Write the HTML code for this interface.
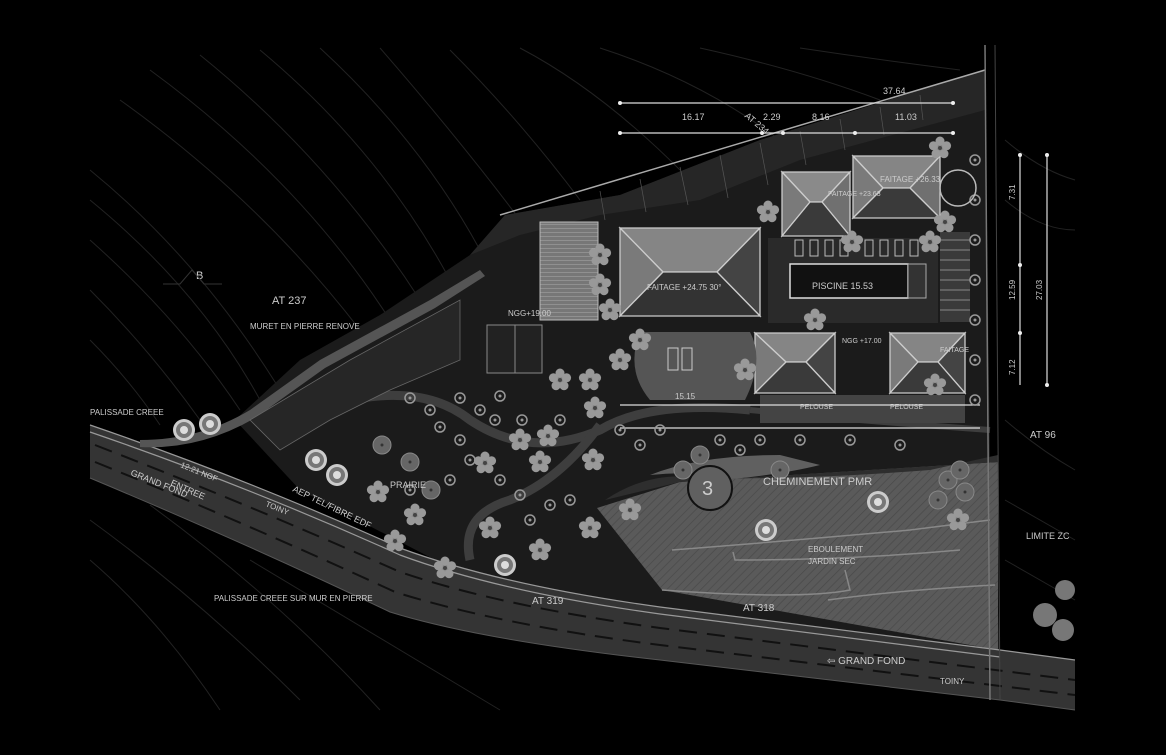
<!DOCTYPE html>
<html><head><meta charset="utf-8"><style>
html,body{margin:0;padding:0;background:#000;}
svg{display:block}
text{font-family:"Liberation Sans",sans-serif;fill:#ccc}
</style></head><body>
<svg width="1166" height="755" viewBox="0 0 1166 755" xmlns="http://www.w3.org/2000/svg">
<rect width="1166" height="755" fill="#000"/>
<defs>
<pattern id="hatch" width="6" height="6" patternUnits="userSpaceOnUse" patternTransform="rotate(45)">
<rect width="6" height="6" fill="#5a5a5a"/><line x1="0" y1="0" x2="0" y2="6" stroke="#4a4a4a" stroke-width="1.5"/></pattern>
<pattern id="grid" width="5" height="4" patternUnits="userSpaceOnUse"><rect width="5" height="4" fill="#777"/><line x1="0" y1="0" x2="5" y2="0" stroke="#aaa" stroke-width="1"/></pattern>
<g id="fl"><circle r="7" fill="#888"/><circle cx="0" cy="-7" r="4.5" fill="#999"/><circle cx="6.6" cy="-2.2" r="4.5" fill="#999"/><circle cx="4" cy="5.7" r="4.5" fill="#999"/><circle cx="-4" cy="5.7" r="4.5" fill="#999"/><circle cx="-6.6" cy="-2.2" r="4.5" fill="#999"/><circle r="2" fill="#444"/></g>
<g id="rt"><circle r="5" fill="none" stroke="#999" stroke-width="1.5"/><circle r="1.5" fill="#999"/></g>
<g id="gt"><circle r="9" fill="#666" stroke="#888"/><circle r="1.5" fill="#333"/></g>
<g id="wt"><circle r="11" fill="#ccc"/><circle r="8" fill="#777"/><circle r="4" fill="#ddd"/></g>
</defs>
<!-- contours -->
<g fill="none" stroke="#222" stroke-width="1">
<path d="M90 170 Q200 260 280 390"/><path d="M90 200 Q200 290 260 400"/><path d="M90 240 Q180 320 240 410"/>
<path d="M90 290 Q150 350 200 420"/><path d="M90 340 Q130 380 160 425"/>
<path d="M120 100 Q260 200 360 330"/><path d="M150 70 Q300 180 390 320"/><path d="M200 55 Q330 160 420 300"/>
<path d="M260 50 Q380 150 450 280"/><path d="M320 48 Q420 140 480 250"/><path d="M380 48 Q460 140 520 220"/>
<path d="M450 50 Q520 120 580 200"/><path d="M520 48 Q600 90 680 170"/><path d="M600 48 Q700 80 780 140"/>
<path d="M700 48 Q800 70 880 100"/><path d="M800 48 Q880 60 960 70"/>
<path d="M1005 140 Q1040 170 1075 180"/><path d="M1005 200 Q1040 230 1075 230"/><path d="M1005 420 Q1040 450 1075 470"/>
<path d="M1005 500 Q1040 520 1075 540"/><path d="M1005 560 Q1040 580 1075 600"/>
<path d="M90 520 Q200 600 300 700"/><path d="M90 560 Q160 620 220 710"/><path d="M150 505 Q280 600 380 710"/><path d="M250 560 Q400 650 500 710"/>
</g>
<!-- site ground -->
<path d="M235 420 L300 360 L380 315 L470 255 L505 215 L620 195 L760 140 L985 70 L990 460 L1000 650 L660 608 L470 578 L300 490 Z" fill="#1b1b1b"/>
<path d="M470 255 L505 215 L620 195 L760 140 L985 70 L985 110 L800 160 L700 200 L600 215 L520 235 Z" fill="#262626"/>
<path d="M500 215 L985 70" stroke="#aaa" stroke-width="1.5"/>
<g stroke="#555" stroke-width="0.7">
<line x1="600" y1="191" x2="605" y2="220"/><line x1="640" y1="179" x2="646" y2="212"/><line x1="680" y1="167" x2="688" y2="205"/><line x1="720" y1="155" x2="728" y2="198"/><line x1="760" y1="143" x2="768" y2="185"/><line x1="800" y1="131" x2="806" y2="165"/><line x1="840" y1="119" x2="845" y2="150"/><line x1="880" y1="107" x2="884" y2="135"/><line x1="920" y1="95" x2="923" y2="120"/>
</g>
<!-- gray dry garden -->
<path d="M597 508 L680 482 L998 462 L998 650 L662 590 Z" fill="url(#hatch)"/>
<g fill="none" stroke="#888" stroke-width="1.5">
<path d="M672 550 Q800 540 910 530 L990 520"/><path d="M733 552 L735 560 Q850 560 960 550"/><path d="M662 590 Q800 600 850 590 L845 570"/><path d="M828 600 Q900 590 995 585"/>
</g>
<path d="M605 500 Q650 470 700 478 Q800 480 930 470 L998 455 L998 462 L680 482 Z" fill="#2e2e2e"/>
<path d="M650 475 Q700 470 720 480 Q780 475 820 465 L780 455 Q700 455 650 475Z" fill="#606060"/>
<!-- winding path -->
<path d="M330 405 Q420 380 470 420 Q530 460 600 430 Q650 400 750 410" fill="none" stroke="#3e3e3e" stroke-width="9"/>
<path d="M600 425 Q560 480 510 500 Q460 515 470 560" fill="none" stroke="#3e3e3e" stroke-width="9"/>
<path d="M750 410 Q850 420 990 430" fill="none" stroke="#3e3e3e" stroke-width="6"/>
<!-- road -->
<path d="M90 425 Q250 480 400 548 Q500 585 660 607 L1000 650 L1075 660 L1075 710 L1000 700 L660 660 Q480 640 390 612 Q250 545 90 478 Z" fill="#343434"/>
<g stroke="#999" stroke-width="1.2" fill="none">
<path d="M90 425 Q250 480 400 548 Q500 585 660 607 L1000 650 L1075 660"/>
<path d="M90 432 Q250 487 400 555 Q500 592 660 614 L1000 657"/>
</g>
<g stroke="#111" stroke-width="2" stroke-dasharray="18 10" fill="none">
<path d="M95 445 Q250 505 400 572 Q500 606 660 628 L1075 680"/>
<path d="M95 462 Q250 525 395 592 Q500 625 660 645 L1075 695"/>
</g>
<path d="M90 478 Q250 545 390 612 Q480 640 660 660 L1000 700 L1075 710" fill="none" stroke="#555" stroke-width="1"/>
<line x1="985" y1="45" x2="990" y2="700" stroke="#777" stroke-width="1.5"/>
<line x1="995" y1="45" x2="1000" y2="700" stroke="#444" stroke-width="1"/>
<!-- left wall strip -->
<path d="M140 440 Q200 440 250 410 L320 360 L430 300 L480 270 L485 276 L435 308 L325 368 L255 418 Q200 450 140 447Z" fill="#555"/>
<path d="M250 420 L350 360 L460 300 L460 360 L390 390 L330 420 L280 450Z" fill="#262626" stroke="#666" stroke-width="0.8"/>
<!-- buildings -->
<rect x="540" y="222" width="58" height="98" fill="url(#grid)" stroke="#bbb"/>
<rect x="487" y="325" width="55" height="48" fill="#222" stroke="#888"/>
<line x1="515" y1="325" x2="515" y2="373" stroke="#888"/>
<g stroke="#ccc" stroke-width="1.3">
<polygon points="620,228 760,228 717,272 663,272" fill="#858585"/>
<polygon points="620,228 663,272 620,316" fill="#7a7a7a"/>
<polygon points="760,228 717,272 760,316" fill="#444"/>
<polygon points="620,316 663,272 717,272 760,316" fill="#333"/>
<polygon points="782,172 850,172 822,202 810,202" fill="#8a8a8a"/>
<polygon points="782,172 810,202 782,236" fill="#7a7a7a"/>
<polygon points="850,172 822,202 850,236" fill="#707070"/>
<polygon points="782,236 810,202 822,202 850,236" fill="#3a3a3a"/>
<polygon points="853,156 940,156 910,188 883,188" fill="#858585"/>
<polygon points="853,156 883,188 853,218" fill="#7a7a7a"/>
<polygon points="940,156 910,188 940,218" fill="#707070"/>
<polygon points="853,218 883,188 910,188 940,218" fill="#3a3a3a"/>
<polygon points="755,333 835,333 806,362 786,362" fill="#858585"/>
<polygon points="755,333 786,362 755,393" fill="#7a7a7a"/>
<polygon points="835,333 806,362 835,393" fill="#444"/>
<polygon points="755,393 786,362 806,362 835,393" fill="#3a3a3a"/>
<polygon points="890,333 965,333 938,362 918,362" fill="#858585"/>
<polygon points="890,333 918,362 890,393" fill="#7a7a7a"/>
<polygon points="965,333 938,362 965,393" fill="#444"/>
<polygon points="890,393 918,362 938,362 965,393" fill="#3a3a3a"/>
</g>
<!-- pool -->
<rect x="768" y="238" width="170" height="85" fill="#2a2a2a"/>
<g fill="none" stroke="#bbb"><rect x="795" y="240" width="8" height="16"/><rect x="810" y="240" width="8" height="16"/><rect x="825" y="240" width="8" height="16"/><rect x="840" y="240" width="8" height="16"/><rect x="865" y="240" width="8" height="16"/><rect x="880" y="240" width="8" height="16"/><rect x="895" y="240" width="8" height="16"/><rect x="910" y="240" width="8" height="16"/></g>
<rect x="790" y="264" width="118" height="34" fill="#111" stroke="#ddd" stroke-width="1.5"/>
<rect x="908" y="264" width="18" height="34" fill="#333" stroke="#aaa"/>
<rect x="940" y="232" width="30" height="90" fill="#3a3a3a"/>
<g stroke="#888" stroke-width="1"><line x1="940" y1="240" x2="970" y2="240"/><line x1="940" y1="250" x2="970" y2="250"/><line x1="940" y1="260" x2="970" y2="260"/><line x1="940" y1="270" x2="970" y2="270"/><line x1="940" y1="280" x2="970" y2="280"/><line x1="940" y1="290" x2="970" y2="290"/><line x1="940" y1="300" x2="970" y2="300"/><line x1="940" y1="310" x2="970" y2="310"/></g>
<path d="M640 332 L750 332 Q765 360 745 400 L650 400 Q625 370 640 332Z" fill="#555"/>
<rect x="668" y="348" width="10" height="22" fill="none" stroke="#ccc"/><rect x="682" y="348" width="10" height="22" fill="none" stroke="#ccc"/>
<rect x="760" y="395" width="120" height="28" fill="#444"/>
<rect x="880" y="395" width="85" height="28" fill="#444"/>
<g stroke="#ddd" stroke-width="1.2">
<line x1="620" y1="103" x2="953" y2="103"/><line x1="620" y1="133" x2="953" y2="133"/>
<line x1="620" y1="405" x2="980" y2="405"/><line x1="620" y1="428" x2="980" y2="428"/>
<line x1="1020" y1="155" x2="1020" y2="385"/><line x1="1047" y1="155" x2="1047" y2="385"/>
</g>
<g fill="#eee"><circle cx="620" cy="103" r="2"/><circle cx="953" cy="103" r="2"/><circle cx="620" cy="133" r="2"/><circle cx="762" cy="133" r="2"/><circle cx="783" cy="133" r="2"/><circle cx="855" cy="133" r="2"/><circle cx="953" cy="133" r="2"/><circle cx="1020" cy="155" r="2"/><circle cx="1020" cy="265" r="2"/><circle cx="1020" cy="333" r="2"/><circle cx="1047" cy="155" r="2"/><circle cx="1047" cy="385" r="2"/></g>
<g>
<use href="#fl" x="768" y="212"/><use href="#fl" x="852" y="242"/><use href="#fl" x="930" y="242"/><use href="#fl" x="640" y="340"/><use href="#fl" x="620" y="360"/><use href="#fl" x="590" y="380"/><use href="#fl" x="560" y="380"/><use href="#fl" x="745" y="370"/><use href="#fl" x="815" y="320"/>
<use href="#fl" x="378" y="492"/><use href="#fl" x="415" y="515"/><use href="#fl" x="395" y="541"/><use href="#fl" x="445" y="568"/><use href="#fl" x="490" y="528"/><use href="#fl" x="540" y="550"/><use href="#fl" x="485" y="463"/><use href="#fl" x="540" y="462"/><use href="#fl" x="593" y="460"/><use href="#fl" x="590" y="528"/><use href="#fl" x="630" y="510"/><use href="#fl" x="548" y="436"/><use href="#fl" x="595" y="408"/><use href="#fl" x="520" y="440"/><use href="#fl" x="940" y="148"/><use href="#fl" x="945" y="222"/><use href="#fl" x="958" y="520"/><use href="#fl" x="935" y="385"/><use href="#fl" x="600" y="255"/><use href="#fl" x="600" y="285"/><use href="#fl" x="610" y="310"/>
<use href="#gt" x="382" y="445"/><use href="#gt" x="410" y="462"/><use href="#gt" x="431" y="490"/><use href="#gt" x="700" y="455"/><use href="#gt" x="683" y="470"/><use href="#gt" x="780" y="470"/><use href="#gt" x="948" y="480"/><use href="#gt" x="965" y="492"/><use href="#gt" x="960" y="470"/><use href="#gt" x="938" y="500"/>
<use href="#rt" x="410" y="398"/><use href="#rt" x="430" y="410"/><use href="#rt" x="460" y="398"/><use href="#rt" x="480" y="410"/><use href="#rt" x="500" y="396"/><use href="#rt" x="495" y="420"/><use href="#rt" x="522" y="420"/><use href="#rt" x="440" y="427"/><use href="#rt" x="460" y="440"/><use href="#rt" x="470" y="460"/><use href="#rt" x="500" y="480"/><use href="#rt" x="520" y="495"/><use href="#rt" x="450" y="480"/><use href="#rt" x="410" y="490"/><use href="#rt" x="560" y="420"/><use href="#rt" x="620" y="430"/><use href="#rt" x="640" y="445"/><use href="#rt" x="660" y="430"/><use href="#rt" x="720" y="440"/><use href="#rt" x="740" y="450"/><use href="#rt" x="760" y="440"/><use href="#rt" x="800" y="440"/><use href="#rt" x="850" y="440"/><use href="#rt" x="900" y="445"/><use href="#rt" x="550" y="505"/><use href="#rt" x="530" y="520"/><use href="#rt" x="570" y="500"/>
<use href="#rt" x="975" y="160"/><use href="#rt" x="975" y="200"/><use href="#rt" x="975" y="240"/><use href="#rt" x="975" y="280"/><use href="#rt" x="975" y="320"/><use href="#rt" x="975" y="360"/><use href="#rt" x="975" y="400"/>
<use href="#wt" x="184" y="430"/><use href="#wt" x="210" y="424"/><use href="#wt" x="316" y="460"/><use href="#wt" x="337" y="475"/><use href="#wt" x="505" y="565"/><use href="#wt" x="766" y="530"/><use href="#wt" x="878" y="502"/>
<circle cx="1045" cy="615" r="12" fill="#777"/><circle cx="1065" cy="590" r="10" fill="#777"/><circle cx="1063" cy="630" r="11" fill="#777"/>
</g>
<g font-size="9" fill="#ccc">
<text x="883" y="94" fill="#aaa">37.64</text><text x="682" y="120" fill="#aaa">16.17</text><text x="763" y="120" fill="#aaa">2.29</text><text x="812" y="120" fill="#aaa">8.16</text><text x="895" y="120" fill="#aaa">11.03</text>
<text x="745" y="122" transform="rotate(40 752 118)" fill="#ddd">AT 234</text>
<text x="272" y="304" font-size="11">AT 237</text>
<text x="250" y="329" font-size="8">MURET EN PIERRE RENOVE</text>
<text x="90" y="415" font-size="8">PALISSADE CREEE</text>
<text x="214" y="601" font-size="8">PALISSADE CREEE SUR MUR EN PIERRE</text>
<text x="390" y="488" font-size="9">PRAIRIE</text>
<text x="292" y="491" font-size="9" transform="rotate(26 292 491)">AEP TEL/FIBRE EDF</text>
<text x="170" y="485" font-size="9" transform="rotate(24 170 485)" fill="#eee">ENTREE</text>
<text x="130" y="475" font-size="9" transform="rotate(22 130 475)" fill="#888">GRAND FOND</text>
<text x="180" y="467" font-size="8" transform="rotate(22 180 467)" fill="#888">12.21 NGF</text>
<text x="265" y="506" font-size="8" transform="rotate(22 265 506)" fill="#888">TOINY</text>
<text x="763" y="485" font-size="11">CHEMINEMENT PMR</text>
<text x="808" y="552" font-size="8" fill="#aaa">EBOULEMENT</text><text x="808" y="564" font-size="8" fill="#aaa">JARDIN SEC</text>
<text x="532" y="604" font-size="10">AT 319</text>
<text x="743" y="611" font-size="10">AT 318</text>
<text x="827" y="664" font-size="10" fill="#aaa">⇦ GRAND FOND</text>
<text x="940" y="684" font-size="8" fill="#aaa">TOINY</text>
<text x="1026" y="539" font-size="9" fill="#aaa">LIMITE ZC</text>
<text x="1030" y="438" font-size="10">AT 96</text>
<text x="812" y="289" font-size="9" fill="#ccc">PISCINE  15.53</text>
<text x="647" y="290" font-size="8" fill="#ccc">FAITAGE +24.75  30°</text>
<text x="880" y="182" font-size="8" fill="#ddd">FAITAGE +26.33</text>
<text x="828" y="196" font-size="7" fill="#ddd">FAITAGE +23.63</text>
<text x="940" y="352" font-size="7" fill="#ddd">FAITAGE</text>
<text x="842" y="343" font-size="7" fill="#ddd">NGG +17.00</text>
<text x="800" y="409" font-size="7" fill="#ccc">PELOUSE</text><text x="890" y="409" font-size="7" fill="#ccc">PELOUSE</text>
<text x="675" y="399" font-size="8" fill="#ccc">15.15</text>
<text x="508" y="316" font-size="8" fill="#ccc">NGG+19.00</text>
<text x="1015" y="200" font-size="8" transform="rotate(-90 1015 200)" fill="#aaa">7.31</text>
<text x="1015" y="300" font-size="8" transform="rotate(-90 1015 300)" fill="#aaa">12.59</text>
<text x="1042" y="300" font-size="8" transform="rotate(-90 1042 300)" fill="#aaa">27.03</text>
<text x="1015" y="375" font-size="8" transform="rotate(-90 1015 375)" fill="#aaa">7.12</text>
<text x="196" y="279" font-size="11" fill="#444">B</text>
</g>
<path d="M163 284 L180 284 L192 270 L204 284 L222 284" fill="none" stroke="#333"/>
<circle cx="710" cy="488" r="22" fill="#606060" stroke="#111" stroke-width="2"/>
<text x="702" y="495" font-size="20" fill="#111">3</text>
<circle cx="958" cy="188" r="18" fill="none" stroke="#bbb" stroke-width="1.5"/>
</svg>
</body></html>
